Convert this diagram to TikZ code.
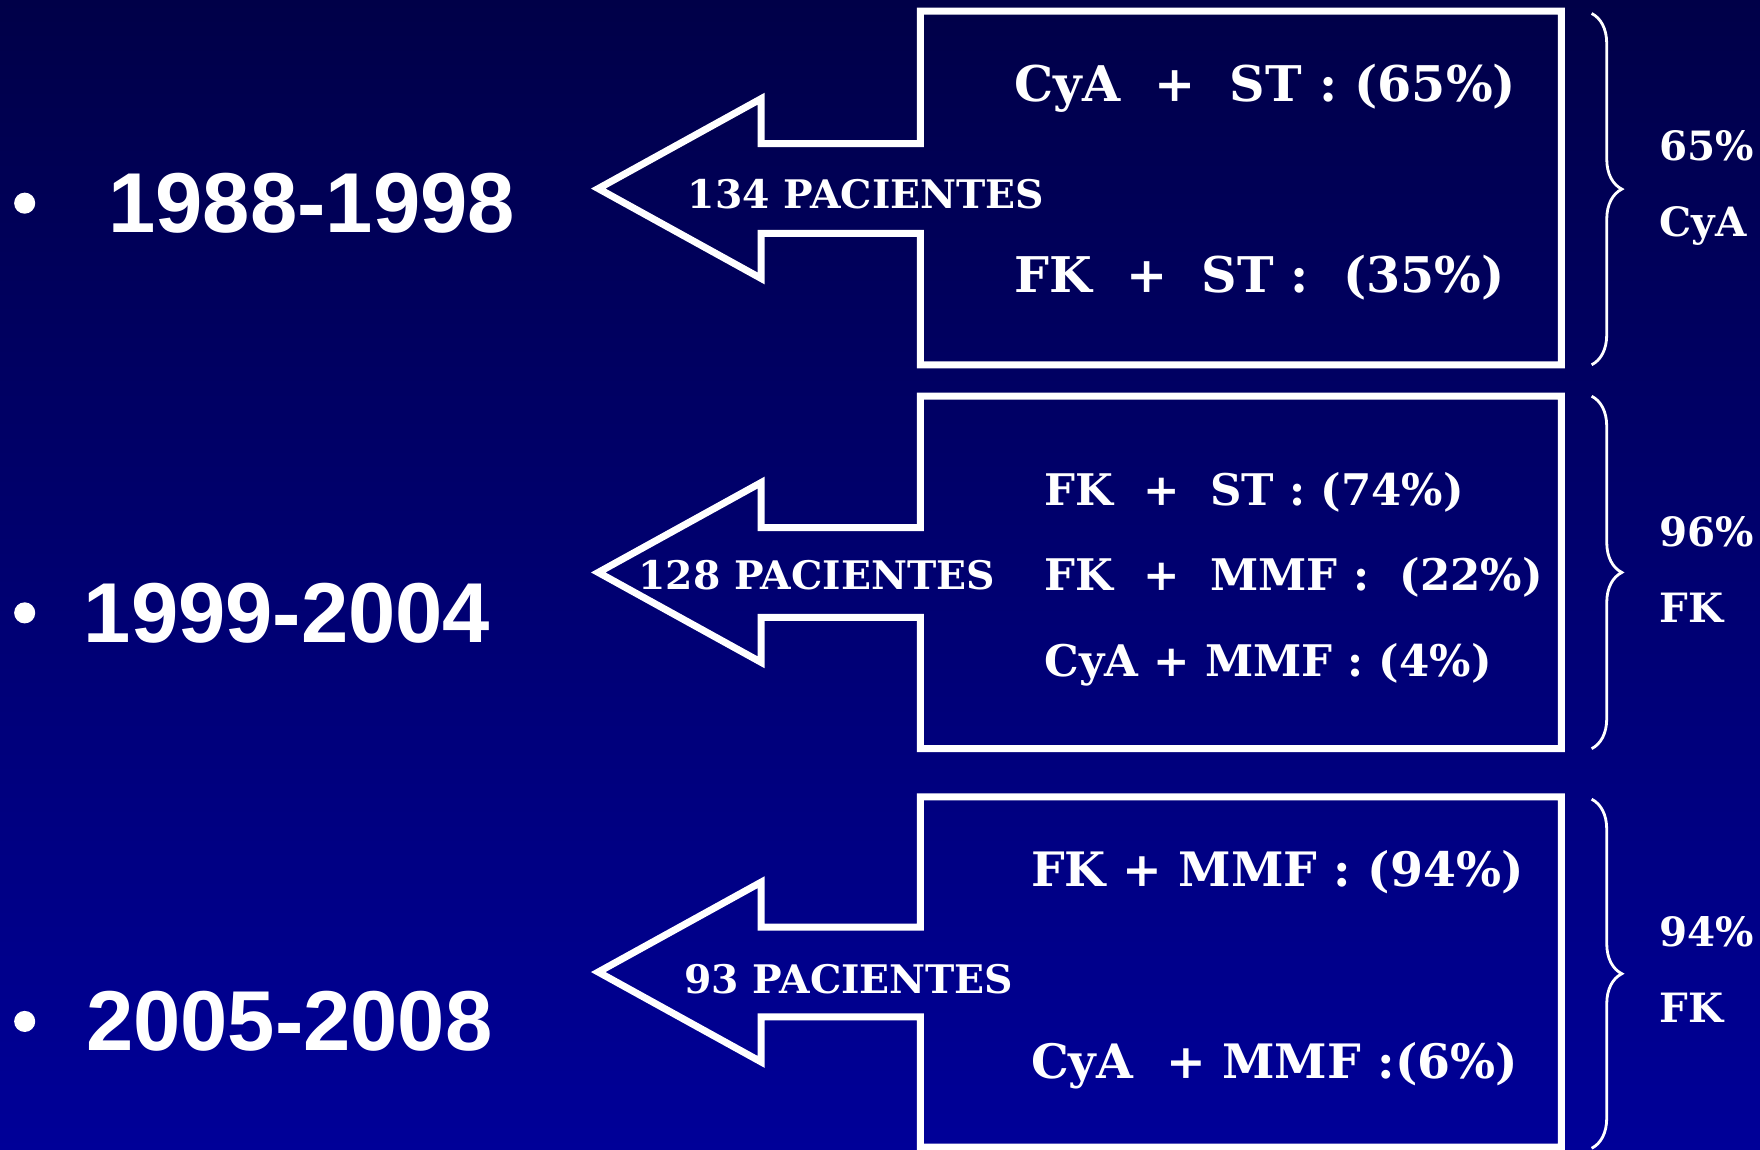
\documentclass[tikz,border=0pt]{standalone}
\usepackage{fontspec}
\setmainfont{DejaVu Serif}
\newfontfamily\yearfont{Liberation Sans}
\usetikzlibrary{positioning}
\usetikzlibrary{decorations.pathreplacing}
\definecolor{bgtop}{RGB}{0,0,72}
\definecolor{bgbot}{RGB}{0,0,152}

\begin{document}
\begin{tikzpicture}[x=0.011224cm, y=-0.011224cm,
  frame/.style={draw=white, line width=2pt},
  dose/.style={anchor=base west, inner sep=0pt, text=white, font=\fontsize{#1}{16}\selectfont\bfseries},
  dose/.default=14,
  pac/.style={anchor=base west, inner sep=0pt, text=white, font=\fontsize{11.2}{13}\selectfont\bfseries},
  tot/.style={anchor=base west, inner sep=0pt, text=white, font=\fontsize{11.5}{13}\selectfont\bfseries},
  yr/.style={anchor=west, inner sep=0pt, text=white, font=\fontsize{24.2}{28}\selectfont\yearfont\bfseries},
  brc/.style={draw=white, line width=0.8pt, decorate, decoration={brace, amplitude=8.6pt}}]

\useasboundingbox (0,0) rectangle (1568,1024);
\shade[top color=bgtop, bottom color=bgbot] (0,0) rectangle (1568,1024);

% arrow boxes: top / tip / bottom
\foreach \u/\t/\d in {10/168/325, 353/510/667, 710/866/1022}
  \draw[frame] (1391,\u) -- (820,\u) -- (820,\t-40) -- (678,\t-40) -- (678,\t-80)
    -- (533,\t) -- (678,\t+80) -- (678,\t+40) -- (820,\t+40) -- (820,\d)
    -- (1391,\d) -- cycle;

% bullets
\foreach \y in {181,546,910}
  \fill[white] (22,\y) circle (3pt);

\path
(96,181) node[yr] (y1) {1988-1998}
(74,546) node[yr] (y2) {1999-2004}
(76,910) node[yr] (y3) {2005-2008};

\path
(903,90) node[dose] (a1) {CyA~~+~~ST : (65\%)}
(903,261) node[dose] (a2) {FK~~+~~ST :~~(35\%)}
(612,186) node[pac] (p1) {134 PACIENTES}
(930,450) node[dose=12.4] (b1) {FK~~+~~ST : (74\%)}
(930,526) node[dose=12.4] (b2) {FK~~+~~MMF :~~(22\%)}
(930,603) node[dose=12.4] (b3) {CyA + MMF : (4\%)}
(568,525) node[pac] (p2) {128 PACIENTES}
(918,790) node[dose=13.5] (c1) {FK + MMF : (94\%)}
(918,961) node[dose=13.5] (c2) {CyA~~+ MMF :(6\%)}
(609,885) node[pac] (p3) {93 PACIENTES};

% totals
\coordinate (s1) at (1418,12);  \coordinate (e1) at (1418,325);
\coordinate (s2) at (1418,353); \coordinate (e2) at (1418,667);
\coordinate (s3) at (1418,712); \coordinate (e3) at (1418,1023);
\draw[brc] (s1) -- (e1);
\draw[brc] (s2) -- (e2);
\draw[brc] (s3) -- (e3);

\path
(1478,143) node[tot] (t1) {65\%}
(1478,211) node[tot] (u1) {CyA}
(1478,487) node[tot] (t2) {96\%}
(1478,555) node[tot] (u2) {FK}
(1478,843) node[tot] (t3) {94\%}
(1478,911) node[tot] (u3) {FK};

\end{tikzpicture}
\end{document}
